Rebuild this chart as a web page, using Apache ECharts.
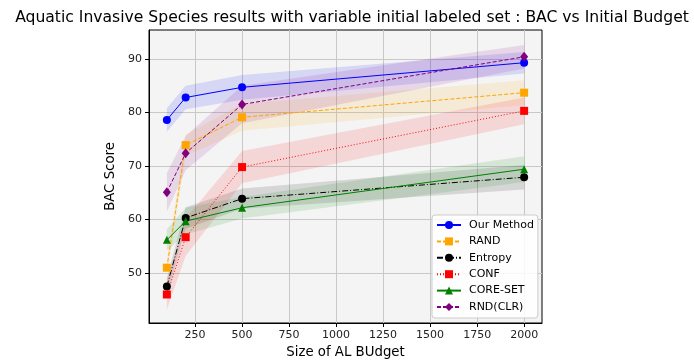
<!DOCTYPE html>
<html><head><meta charset="utf-8">
<script src="https://cdn.jsdelivr.net/npm/echarts@6/dist/echarts.min.js"></script>
<style>html,body{margin:0;padding:0;background:#fff}#c{width:694px;height:360px}</style>
</head><body><div id="c"></div>
<script>
const budgets = [100, 200, 500, 2000];
const xTicks = [250, 500, 750, 1000, 1250, 1500, 1750, 2000];
const yTicks = [50, 60, 70, 80, 90];

const ourMethod    = [78.6, 82.8, 84.7, 89.3];
const ourMethodStd = [2.2, 2.2, 2.3, 2.0];
const rand         = [51.0, 73.9, 79.1, 83.7];
const randStd      = [1.5, 2.0, 2.5, 2.3];
const entropy      = [47.5, 60.3, 63.9, 67.9];
const entropyStd   = [1.5, 2.0, 1.9, 2.3];
const conf         = [46.0, 56.7, 69.8, 80.3];
const confStd      = [2.8, 3.5, 3.0, 2.5];
const coreSet      = [56.2, 59.7, 62.2, 69.4];
const coreSetStd   = [2.0, 2.5, 2.0, 2.4];
const rndClr       = [65.1, 72.4, 81.5, 90.4];
const rndClrStd    = [3.6, 3.2, 3.5, 2.2];

const seriesDefs = [
  {name: 'Our Method', mean: ourMethod, std: ourMethodStd, color: '#0000ff', rgb: '0,0,255', dash: 'solid', symbol: 'circle', size: 8},
  {name: 'RAND', mean: rand, std: randStd, color: '#ffa500', rgb: '255,165,0', dash: [4, 2], symbol: 'rect', size: 8},
  {name: 'Entropy', mean: entropy, std: entropyStd, color: '#000000', rgb: '0,0,0', dash: [6, 2, 1, 2], symbol: 'circle', size: 8},
  {name: 'CONF', mean: conf, std: confStd, color: '#ff0000', rgb: '255,0,0', dash: [1, 2], symbol: 'rect', size: 8},
  {name: 'CORE-SET', mean: coreSet, std: coreSetStd, color: '#008000', rgb: '0,128,0', dash: 'solid', symbol: 'triangle', size: 8},
  {name: 'RND(CLR)', mean: rndClr, std: rndClrStd, color: '#800080', rgb: '128,0,128', dash: [4, 2], symbol: 'diamond', size: [8, 10]}
];

function bandSeries(d) {
  const data = budgets.map((b, i) => [b, d.mean[i] - d.std[i], d.mean[i] + d.std[i]]);
  return {
    type: 'custom', silent: true, data: data, z: 1, clip: true,
    encode: {x: 0, y: [1, 2]},
    renderItem: function (params, api) {
      if (params.dataIndex !== 0) return null;
      const up = [], lo = [];
      for (let i = 0; i < data.length; i++) {
        up.push(api.coord([data[i][0], data[i][2]]));
        lo.push(api.coord([data[i][0], data[i][1]]));
      }
      return {type: 'polygon', shape: {points: up.concat(lo.reverse())},
        style: {fill: 'rgba(' + d.rgb + ',0.12)', stroke: null}};
    }
  };
}

const series = [];
seriesDefs.forEach(d => series.push(bandSeries(d)));
seriesDefs.forEach(d => series.push({
  name: d.name, type: 'line', z: 3,
  data: budgets.map((b, i) => [b, d.mean[i]]),
  symbol: d.symbol, symbolSize: d.size, showSymbol: true,
  itemStyle: {color: d.color, borderWidth: 0},
  lineStyle: {color: d.color, width: 1, type: d.dash},
  emphasis: {disabled: true}, animation: false
}));

const chart = echarts.init(document.getElementById('c'), null, {renderer: 'canvas'});
chart.setOption({
  animation: false,
  backgroundColor: '#ffffff',
  title: {
    text: 'Aquatic Invasive Species results with variable initial labeled set : BAC vs Initial Budget',
    left: 347, textAlign: 'center', top: 5,
    textStyle: {fontFamily: 'DejaVu Sans', fontSize: 15.6, fontWeight: 'normal', color: '#000'}
  },
  grid: {left: 149, right: 152, top: 30, bottom: 37, show: true, outerBoundsMode: 'none', containLabel: false,
    backgroundColor: '#f4f4f4', borderColor: '#000', borderWidth: 1},
  legend: {
    orient: 'vertical', left: 432, top: 215,
    data: seriesDefs.map(d => d.name),
    itemWidth: 24, itemHeight: 10, itemGap: 2.4,
    padding: [3, 4, 4, 4],
    backgroundColor: 'rgba(255,255,255,0.85)', borderColor: '#cccccc', borderWidth: 1, borderRadius: 3,
    textStyle: {fontFamily: 'DejaVu Sans', fontSize: 11, color: '#000', lineHeight: 14, padding: [0, 0, 0, 3]}
  },
  xAxis: {
    type: 'value', min: 5, max: 2095,
    name: 'Size of AL BUdget', nameLocation: 'middle', nameGap: 23,
    nameTextStyle: {fontFamily: 'DejaVu Sans', fontSize: 13.3, color: '#000'},
    axisLine: {show: true, onZero: false, lineStyle: {color: '#000', width: 1}},
    axisTick: {show: true, length: 4, customValues: xTicks, lineStyle: {color: '#000'}},
    axisLabel: {customValues: xTicks, margin: 7, fontFamily: 'DejaVu Sans', fontSize: 11, color: '#222',
      formatter: v => String(v)},
    splitLine: {show: true, lineStyle: {color: '#c8c8c8', width: 1}}
  },
  yAxis: {
    type: 'value', min: 40.67, max: 95.41,
    name: 'BAC Score', nameLocation: 'middle', nameGap: 28, nameRotate: 90,
    nameTextStyle: {fontFamily: 'DejaVu Sans', fontSize: 13.3, color: '#000'},
    axisLine: {show: true, onZero: false, lineStyle: {color: '#000', width: 1}},
    axisTick: {show: true, length: 4, customValues: yTicks, lineStyle: {color: '#000'}},
    axisLabel: {customValues: yTicks, margin: 7, fontFamily: 'DejaVu Sans', fontSize: 11, color: '#222',
      formatter: v => String(v)},
    splitLine: {show: true, lineStyle: {color: '#c8c8c8', width: 1}}
  },
  series: series
});
</script></body></html>
